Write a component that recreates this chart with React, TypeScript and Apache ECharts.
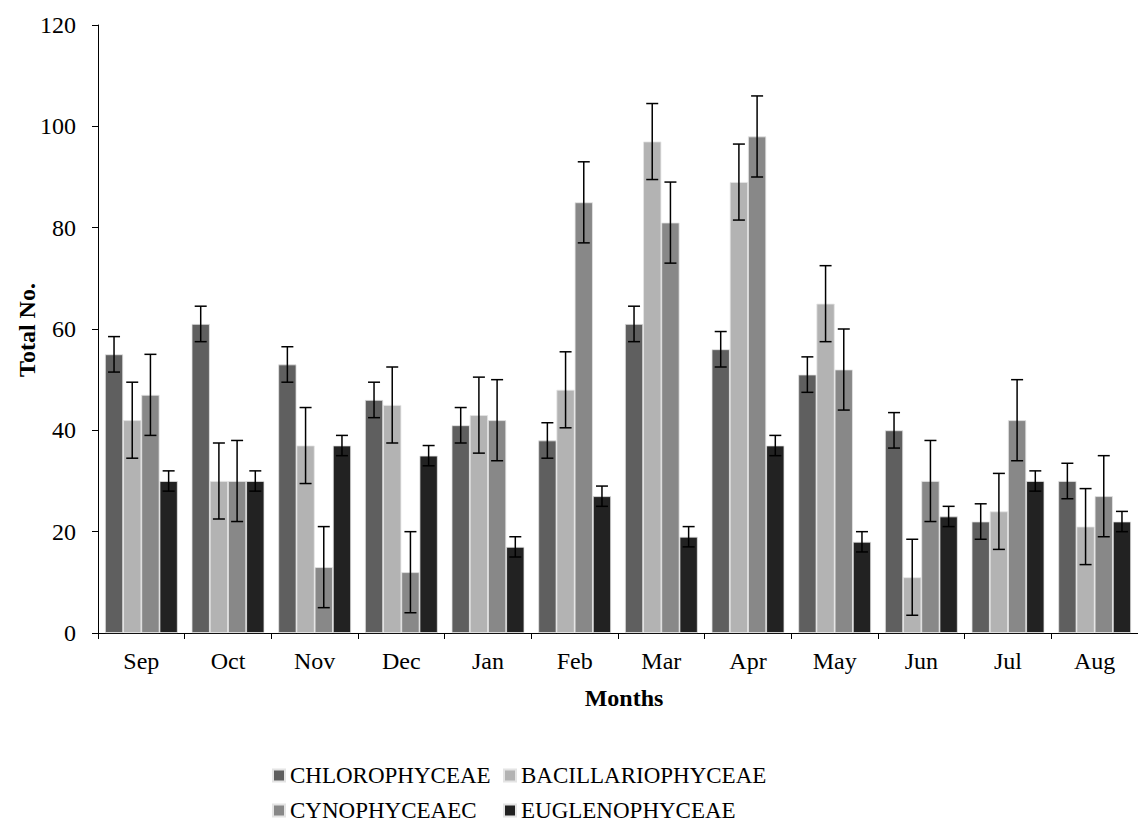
import React, { useEffect, useRef } from "react";
import * as echarts from "echarts";

const months = ["Sep", "Oct", "Nov", "Dec", "Jan", "Feb", "Mar", "Apr", "May", "Jun", "Jul", "Aug"];
const seriesNames = ["CHLOROPHYCEAE", "BACILLARIOPHYCEAE", "CYNOPHYCEAEC", "EUGLENOPHYCEAE"];
const chlorophyceae = [55, 61, 53, 46, 41, 38, 61, 56, 51, 40, 22, 30];
const bacillariophyceae = [42, 30, 37, 45, 43, 48, 97, 89, 65, 11, 24, 21];
const cynophyceaec = [47, 30, 13, 12, 42, 85, 81, 98, 52, 30, 42, 27];
const euglenophyceae = [30, 30, 37, 35, 17, 27, 19, 37, 18, 23, 30, 22];
const chloroErr = [3.5, 3.5, 3.5, 3.5, 3.5, 3.5, 3.5, 3.5, 3.5, 3.5, 3.5, 3.5];
const bacilErr = [7.5, 7.5, 7.5, 7.5, 7.5, 7.5, 7.5, 7.5, 7.5, 7.5, 7.5, 7.5];
const cynoErr = [8, 8, 8, 8, 8, 8, 8, 8, 8, 8, 8, 8];
const euglenoErr = [2, 2, 2, 2, 2, 2, 2, 2, 2, 2, 2, 2];
const yTicks = { min: 0, max: 120, interval: 20 };

const colors = ["#5f5f5f", "#b3b3b3", "#888888", "#222222"];
const FONT = "'Liberation Serif', 'Times New Roman', serif";
const GAP = 0.16;

export default function App() {
  const ref = useRef<HTMLDivElement>(null);
  useEffect(() => {
    if (!ref.current) return;
    const chart = echarts.init(ref.current, null, { renderer: "svg" });
    const values = [chlorophyceae, bacillariophyceae, cynophyceaec, euglenophyceae];
    const errs = [chloroErr, bacilErr, cynoErr, euglenoErr];

    const barSeries = values.map((vals, si) => ({
      name: seriesNames[si],
      type: "bar",
      data: vals,
      barGap: "0%",
      barCategoryGap: GAP * 100 + "%",
      itemStyle: { color: colors[si], borderColor: "#e4e4e4", borderWidth: 0.8 },
      z: 2,
    }));

    const errSeries = values.map((vals, si) => ({
      name: "err" + si,
      type: "custom",
      z: 5,
      data: vals.map((v, i) => [i, v, errs[si][i]]),
      encode: { x: 0, y: 1 },
      renderItem: (params: any, api: any) => {
        const cat = api.value(0);
        const v = api.value(1);
        const e = api.value(2);
        const c = api.coord([cat, v]);
        const band = api.size([1, 0])[0];
        const bw = (band * (1 - GAP)) / 4;
        const x = c[0] + (si - 1.5) * bw;
        const top = api.coord([cat, v + e])[1];
        const bot = api.coord([cat, v - e])[1];
        const hw = 6;
        const st = { stroke: "#000", lineWidth: 1.5 };
        return {
          type: "group",
          children: [
            { type: "line", shape: { x1: x, y1: top, x2: x, y2: bot }, style: st },
            { type: "line", shape: { x1: x - hw, y1: top, x2: x + hw, y2: top }, style: st },
            { type: "line", shape: { x1: x - hw, y1: bot, x2: x + hw, y2: bot }, style: st },
          ],
        };
      },
    }));

    const legendCommon = {
      orient: "horizontal",
      itemWidth: 12,
      itemHeight: 12,
      itemGap: 0,
      icon: "rect",
      selectedMode: false,
      textStyle: { fontFamily: FONT, fontSize: 23, color: "#000" },
    };

    chart.setOption({
      animation: false,
      grid: { left: 98, right: 0, top: 25, bottom: 192, containLabel: false },
      legend: [
        { ...legendCommon, left: 267, top: 759, data: [seriesNames[0]] },
        { ...legendCommon, left: 498, top: 759, data: [seriesNames[1]] },
        { ...legendCommon, left: 267, top: 794, data: [seriesNames[2]] },
        { ...legendCommon, left: 498, top: 794, data: [seriesNames[3]] },
      ],
      xAxis: {
        type: "category",
        data: months,
        axisLine: { lineStyle: { color: "#000", width: 1 } },
        axisTick: { show: true, length: 6, lineStyle: { color: "#000" } },
        axisLabel: { fontFamily: FONT, fontSize: 24, color: "#000", margin: 16 },
      },
      yAxis: {
        type: "value",
        min: yTicks.min,
        max: yTicks.max,
        interval: yTicks.interval,
        splitLine: { show: false },
        axisLine: { show: true, lineStyle: { color: "#000", width: 1 } },
        axisTick: { show: true, length: 6, lineStyle: { color: "#000" } },
        axisLabel: { fontFamily: FONT, fontSize: 24, color: "#000", margin: 22 },
      },
      graphic: [
        {
          type: "text",
          x: 624,
          y: 698,
          style: {
            text: "Months",
            font: "bold 24px " + FONT,
            fill: "#000",
            align: "center",
            verticalAlign: "middle",
          },
        },
        {
          type: "text",
          x: 27,
          y: 330,
          rotation: Math.PI / 2,
          style: {
            text: "Total No.",
            font: "bold 24px " + FONT,
            fill: "#000",
            align: "center",
            verticalAlign: "middle",
          },
        },
      ],
      series: [...barSeries, ...errSeries],
    });
    return () => chart.dispose();
  }, []);
  return (
    <div
      ref={ref}
      style={{ position: "fixed", left: 0, top: 0, width: 1138, height: 825, background: "#fff" }}
    />
  );
}
